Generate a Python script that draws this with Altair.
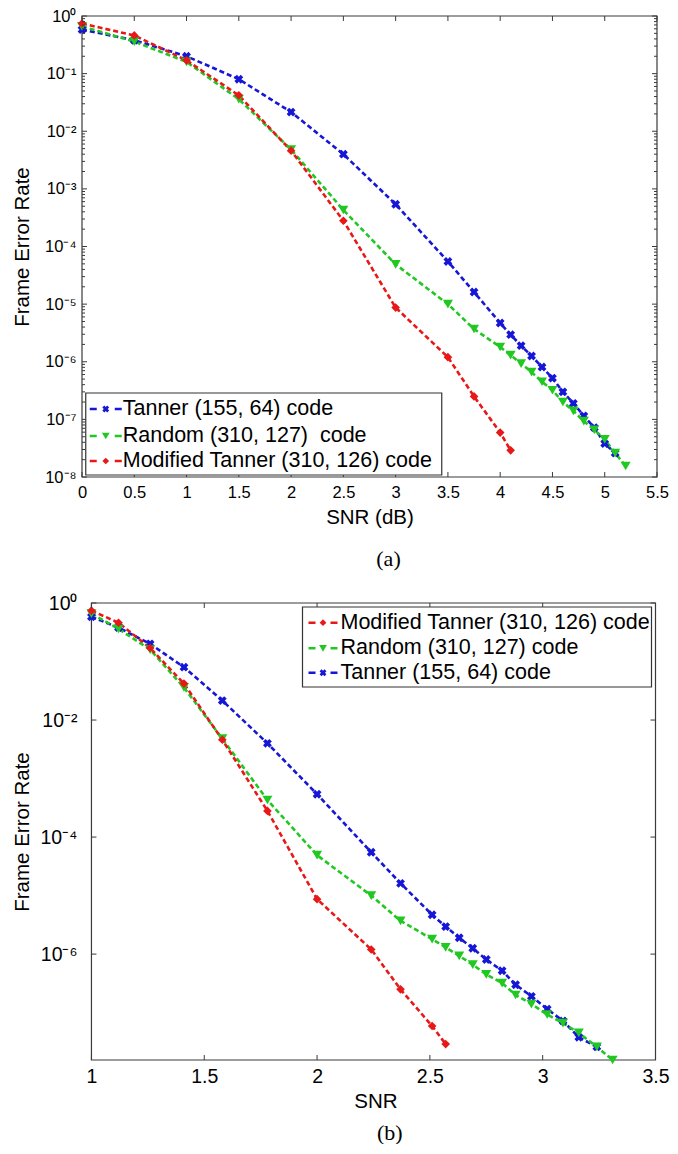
import json
import altair as alt
import pandas as pd

# ---------------- data ----------------
series_names = ["Tanner (155, 64) code", "Random (310, 127) code", "Modified Tanner (310, 126) code"]
series_colors = ["#1616d6", "#22c822", "#e81818"]
series_shapes = ["cross", "triangle-down", "diamond"]
series_angles = [45, 0, 0]
series_sizes = [80, 100, 75]

# panel (a): SNR in dB
snr_db_tanner = [0, 0.5, 1, 1.5, 2, 2.5, 3, 3.5, 3.75, 4.0, 4.1, 4.2, 4.3, 4.4, 4.5, 4.6, 4.7, 4.8, 4.9, 5.0, 5.1]
snr_db_random = [0, 0.5, 1, 1.5, 2, 2.5, 3, 3.5, 3.75, 4.0, 4.1, 4.2, 4.3, 4.4, 4.5, 4.6, 4.7, 4.8, 4.9, 5.0, 5.1, 5.2]
snr_db_modified = [0, 0.5, 1, 1.5, 2, 2.5, 3, 3.5, 3.75, 4.0, 4.1]

# panel (b): linear SNR
snr_lin_tanner = [1.0, 1.12, 1.26, 1.41, 1.58, 1.78, 2.0, 2.24, 2.37, 2.51, 2.57, 2.63, 2.69, 2.75, 2.82, 2.88, 2.95, 3.02, 3.09, 3.16, 3.24]
snr_lin_random = [1.0, 1.12, 1.26, 1.41, 1.58, 1.78, 2.0, 2.24, 2.37, 2.51, 2.57, 2.63, 2.69, 2.75, 2.82, 2.88, 2.95, 3.02, 3.09, 3.16, 3.24, 3.31]
snr_lin_modified = [1.0, 1.12, 1.26, 1.41, 1.58, 1.78, 2.0, 2.24, 2.37, 2.51, 2.57]

fer_tanner = [0.58, 0.38, 0.2, 0.08, 0.0215, 0.004, 5.4e-4, 5.5e-5, 1.62e-5, 4.7e-6, 2.95e-6, 1.9e-6,
              1.26e-6, 8.1e-7, 5.2e-7, 3.0e-7, 1.9e-7, 1.15e-7, 7.2e-8, 3.8e-8, 2.6e-8]
fer_random = [0.66, 0.36, 0.16, 0.036, 0.0048, 4.3e-4, 4.9e-5, 1.0e-5, 3.7e-6, 1.8e-6, 1.3e-6, 9.3e-7,
              6.6e-7, 4.5e-7, 3.2e-7, 2.0e-7, 1.4e-7, 9.3e-8, 6.6e-8, 4.5e-8, 2.6e-8, 1.55e-8]
fer_modified = [0.74, 0.46, 0.17, 0.042, 0.0046, 2.8e-4, 8.7e-6, 1.2e-6, 2.5e-7, 5.9e-8, 2.9e-8]

top_legend_labels = ["Tanner (155, 64) code", "Random (310, 127)\u00a0 code", "Modified Tanner (310, 126) code"]
bottom_legend_labels = ["Modified Tanner (310, 126) code", "Random (310, 127) code", "Tanner (155, 64) code"]
bottom_legend_series = [2, 1, 0]

top_x_ticks = [0, 0.5, 1, 1.5, 2, 2.5, 3, 3.5, 4, 4.5, 5, 5.5]
top_x_labels = ["0", "0.5", "1", "1.5", "2", "2.5", "3", "3.5", "4", "4.5", "5", "5.5"]
top_y_ticks = [1, 1e-1, 1e-2, 1e-3, 1e-4, 1e-5, 1e-6, 1e-7, 1e-8]
top_y_labels = ["10⁰", "10⁻¹", "10⁻²", "10⁻³", "10⁻⁴", "10⁻⁵", "10⁻⁶", "10⁻⁷", "10⁻⁸"]
top_y_minor = [m * 10.0 ** k for k in range(-8, 0) for m in range(2, 10)]

bottom_x_ticks = [1, 1.5, 2, 2.5, 3, 3.5]
bottom_x_labels = ["1", "1.5", "2", "2.5", "3", "3.5"]
bottom_y_ticks = [1, 1e-2, 1e-4, 1e-6]
bottom_y_labels = ["10⁰", "10⁻²", "10⁻⁴", "10⁻⁶"]

FONT = "Liberation Sans"
AXC = "#3a3a3a"


def make_df(xs_list):
    rows = []
    for i, (xs, ys) in enumerate(zip(xs_list, [fer_tanner, fer_random, fer_modified])):
        for xv, yv in zip(xs, ys):
            rows.append({"series": series_names[i], "x": xv, "y": yv})
    return pd.DataFrame(rows)


def lookup_expr(ticks, labels):
    return f"{json.dumps(labels, ensure_ascii=False)}[indexof({json.dumps(ticks)}, datum.value)]"


def panel(df, x_dom, x_ticks, x_labels, x_title, y_dom, y_ticks, y_labels, y_minor,
          w, h, x0, lab_fs, ttl_fs, title_x, lab_pad, ylab_pad, ttl_pad, xtitle_x,
          leg_labels, leg_series, leg_box, leg_rows, leg_sym, leg_text_x,
          ptitle, ptitle_dx, ptitle_offset):
    # x0: left inset of the plot box inside the view (the box spans x0 .. w)
    xs = alt.Scale(domain=x_dom, range=[x0, w], nice=False, zero=False)
    ys = alt.Scale(type="log", domain=y_dom, nice=False)
    xaxis_kw = dict(values=x_ticks, labelExpr=lookup_expr(x_ticks, x_labels), title=x_title,
                    grid=False, ticks=False, domain=False, labelFlush=False, labelOverlap=False,
                    labelFont=FONT, labelFontSize=lab_fs, labelColor="black", labelPadding=lab_pad,
                    titleFont=FONT, titleFontSize=ttl_fs, titleFontWeight="normal",
                    titleColor="black", titlePadding=ttl_pad)
    if xtitle_x is not None:
        xaxis_kw["titleX"] = xtitle_x
    xaxis = alt.Axis(**xaxis_kw)
    yaxis = alt.Axis(values=y_ticks, labelExpr=lookup_expr(y_ticks, y_labels), title="Frame Error Rate",
                     grid=False, ticks=False, domain=False, labelOverlap=False,
                     labelFont=FONT, labelFontSize=lab_fs, labelColor="black", labelPadding=ylab_pad,
                     titleFont=FONT, titleFontSize=ttl_fs, titleFontWeight="normal", titleColor="black",
                     titleX=title_x, titleY=h / 2, titleAngle=270, titleAlign="center",
                     titleBaseline="middle")
    X = lambda f: alt.X(f, scale=xs, axis=xaxis, title=x_title)
    Y = lambda f: alt.Y(f, scale=ys, axis=yaxis, title="Frame Error Rate")
    base = alt.Chart(df)
    layers = []
    # plot box
    layers.append(alt.Chart(pd.DataFrame({"v": [0]})).mark_rect(
        fillOpacity=0, stroke=AXC, strokeWidth=1.2).encode(
        x=alt.value(x0), x2=alt.value(w), y=alt.value(0), y2=alt.value(h)))
    layers.append(base.mark_line(strokeDash=[5, 3], strokeWidth=2.6).encode(
        x=X("x:Q"), y=Y("y:Q"),
        color=alt.Color("series:N", scale=alt.Scale(domain=series_names, range=series_colors), legend=None),
    ))
    for i in range(3):
        layers.append(base.transform_filter(alt.datum.series == series_names[i]).mark_point(
            filled=True, shape=series_shapes[i], angle=series_angles[i], size=series_sizes[i],
            color=series_colors[i], opacity=1).encode(x=X("x:Q"), y=Y("y:Q")))
    # inward ticks (matlab-style box)
    dfx = pd.DataFrame({"v": x_ticks})
    for ya, yb in [(h, h - 5), (0, 5)]:
        layers.append(alt.Chart(dfx).mark_rule(color=AXC, strokeWidth=1).encode(
            x=X("v:Q"), y=alt.value(ya), y2=alt.value(yb)))
    for vals, L in [(y_ticks, 5), (y_minor, 3)]:
        if not vals:
            continue
        dfy = pd.DataFrame({"v": vals})
        for xa, xb in [(x0, x0 + L), (w, w - L)]:
            layers.append(alt.Chart(dfy).mark_rule(color=AXC, strokeWidth=1).encode(
                y=Y("v:Q"), x=alt.value(xa), x2=alt.value(xb)))
    # legend
    leg_df = pd.DataFrame({"label": leg_labels, "series": [series_names[k] for k in leg_series]})
    bx0, bx1, by0, by1 = leg_box
    layers.append(alt.Chart(leg_df.head(1)).mark_rect(fill="white", stroke="#333", strokeWidth=1.2).encode(
        x=alt.value(bx0), x2=alt.value(bx1), y=alt.value(by0), y2=alt.value(by1)))
    sx0, sx1 = leg_sym
    for r, k in enumerate(leg_series):
        one = alt.Chart(leg_df).transform_filter(alt.datum.series == series_names[k])
        layers.append(one.mark_rule(strokeDash=[7, sx1 - sx0 - 14], strokeWidth=2.6,
                                    color=series_colors[k]).encode(
            x=alt.value(sx0), x2=alt.value(sx1), y=alt.value(leg_rows[r])))
        layers.append(one.mark_point(filled=True, shape=series_shapes[k], angle=series_angles[k],
                                     size=series_sizes[k] * 0.6, color=series_colors[k], opacity=1).encode(
            x=alt.value((sx0 + sx1) / 2), y=alt.value(leg_rows[r])))
        layers.append(one.mark_text(align="left", baseline="middle", font=FONT, fontSize=21.5,
                                    color="black").encode(
            x=alt.value(leg_text_x), y=alt.value(leg_rows[r]), text="label:N"))
    return alt.layer(*layers).properties(
        width=w, height=h,
        title=alt.TitleParams(ptitle, orient="bottom", font="Liberation Serif", fontSize=22,
                              fontWeight="normal", color="black", dx=ptitle_dx, offset=ptitle_offset))


TH = 461
TW = 575
top = panel(make_df([snr_db_tanner, snr_db_random, snr_db_modified]),
            [0, 5.5], top_x_ticks, top_x_labels, "SNR (dB)",
            [1e-8, 1], top_y_ticks, top_y_labels, top_y_minor,
            TW, TH, 0, 16.5, 20.5, -60, 7, 6, 7, None,
            top_legend_labels, [0, 1, 2], (3.75, 359.75, TH - 84, TH - 2),
            [TH - 68, TH - 41, TH - 16], (7.75, 39.75), 40.75,
            "(a)", 19, 21)

B = 9.45  # the lower panel's box starts a little further right
BW = 573.5
bottom = panel(make_df([snr_lin_tanner, snr_lin_random, snr_lin_modified]),
               [1, 3.5], bottom_x_ticks, bottom_x_labels, "SNR",
               [1.55e-8, 1], bottom_y_ticks, bottom_y_labels, [],
               BW, 457, B, 19.5, 20.5, -60, 7, 5, 6, 293.5,
               bottom_legend_labels, bottom_legend_series,
               (220.5, 569.5, 4, 84), [19.7, 45.3, 69.7],
               (226.5, 255.5), 258.5, "(b)", 21, 11)

chart = alt.vconcat(top, bottom, spacing=23).properties(
    padding={"left": 4, "top": 0, "right": 0, "bottom": 0},
).configure_view(strokeOpacity=0)

chart.save("out.html", embed_options={"renderer": "svg", "actions": False})
